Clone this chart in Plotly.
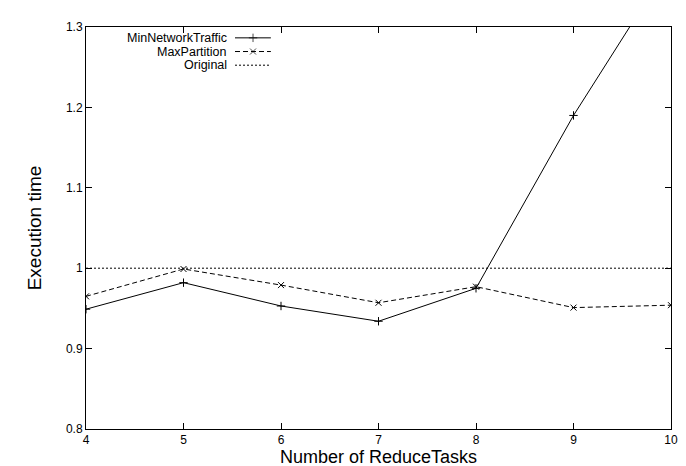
import plotly.graph_objects as go

# ---- data ----
reduce_tasks = [4, 5, 6, 7, 8, 9, 10]
min_network_traffic = [0.949, 0.982, 0.953, 0.934, 0.975, 1.190, 1.381]
max_partition = [0.965, 0.999, 0.979, 0.957, 0.977, 0.951, 0.954]
original = [1.0, 1.0, 1.0, 1.0, 1.0, 1.0, 1.0]

series_names = ["MinNetworkTraffic", "MaxPartition", "Original"]
x_ticks = [4, 5, 6, 7, 8, 9, 10]
y_ticks = [0.8, 0.9, 1.0, 1.1, 1.2, 1.3]
x_title = "Number of ReduceTasks"
y_title = "Execution time"

FONT = "Liberation Sans, Arial, Helvetica, sans-serif"
INK = "#000000"

styles = [
    dict(dash="solid", symbol="cross-thin"),
    dict(dash="5px,3px", symbol="x-thin"),
    dict(dash="2px,2px", symbol=None),
]
values = [min_network_traffic, max_partition, original]

fig = go.Figure()
for name, ys, st in zip(series_names, values, styles):
    if st["symbol"]:
        fig.add_trace(go.Scatter(
            x=reduce_tasks, y=ys, name=name, mode="lines+markers",
            line=dict(color=INK, width=1, dash=st["dash"]),
            marker=dict(symbol=st["symbol"], size=6,
                        line=dict(color=INK, width=1), color=INK),
            showlegend=False, cliponaxis=True,
        ))
    else:
        fig.add_trace(go.Scatter(
            x=reduce_tasks, y=ys, name=name, mode="lines",
            line=dict(color=INK, width=1, dash=st["dash"]),
            showlegend=False,
        ))

# ---- gnuplot-style key (text right-aligned, sample on the right) ----
key_rows_y = [0.973, 0.939, 0.905]
key_text_x = 0.243
key_line_x = [0.2547, 0.2855, 0.316]
for name, st, ky in zip(series_names, styles, key_rows_y):
    fig.add_annotation(
        x=key_text_x, y=ky, xref="paper", yref="paper",
        text=name, showarrow=False, xanchor="right", yanchor="middle",
        font=dict(family=FONT, size=12.5, color=INK), borderpad=0,
    )
    fig.add_trace(go.Scatter(
        x=key_line_x, y=[ky] * 3, xaxis="x2", yaxis="y2",
        mode="lines+markers" if st["symbol"] else "lines",
        line=dict(color=INK, width=1, dash=st["dash"]),
        marker=dict(symbol=st["symbol"] or "circle", size=[0, 6, 0],
                    line=dict(color=INK, width=1), color=INK),
        showlegend=False, hoverinfo="skip",
    ))

axis_common = dict(
    showgrid=False, zeroline=False, showline=True, linecolor=INK,
    linewidth=1, mirror="allticks", ticks="inside", ticklen=6,
    tickcolor=INK, tickwidth=1,
    tickfont=dict(family=FONT, size=12, color=INK),
)

fig.update_layout(
    width=686, height=466,
    margin=dict(l=78, r=23, t=14, b=41),
    paper_bgcolor="white", plot_bgcolor="white",
    font=dict(family=FONT, color=INK),
    xaxis=dict(range=[4, 10], tickvals=x_ticks,
               title=dict(text=x_title,
                          font=dict(family=FONT, size=18, color=INK),
                          standoff=2),
               **axis_common),
    yaxis=dict(range=[0.8, 1.3], tickvals=y_ticks,
               ticktext=[f"{v:g}" for v in y_ticks],
               title=dict(text=y_title,
                          font=dict(family=FONT, size=19, color=INK),
                          standoff=19),
               **axis_common),
    xaxis2=dict(range=[0, 1], overlaying="x", visible=False, fixedrange=True),
    yaxis2=dict(range=[0, 1], overlaying="y", visible=False, fixedrange=True),
    showlegend=False,
)

fig.write_html("out.html")
